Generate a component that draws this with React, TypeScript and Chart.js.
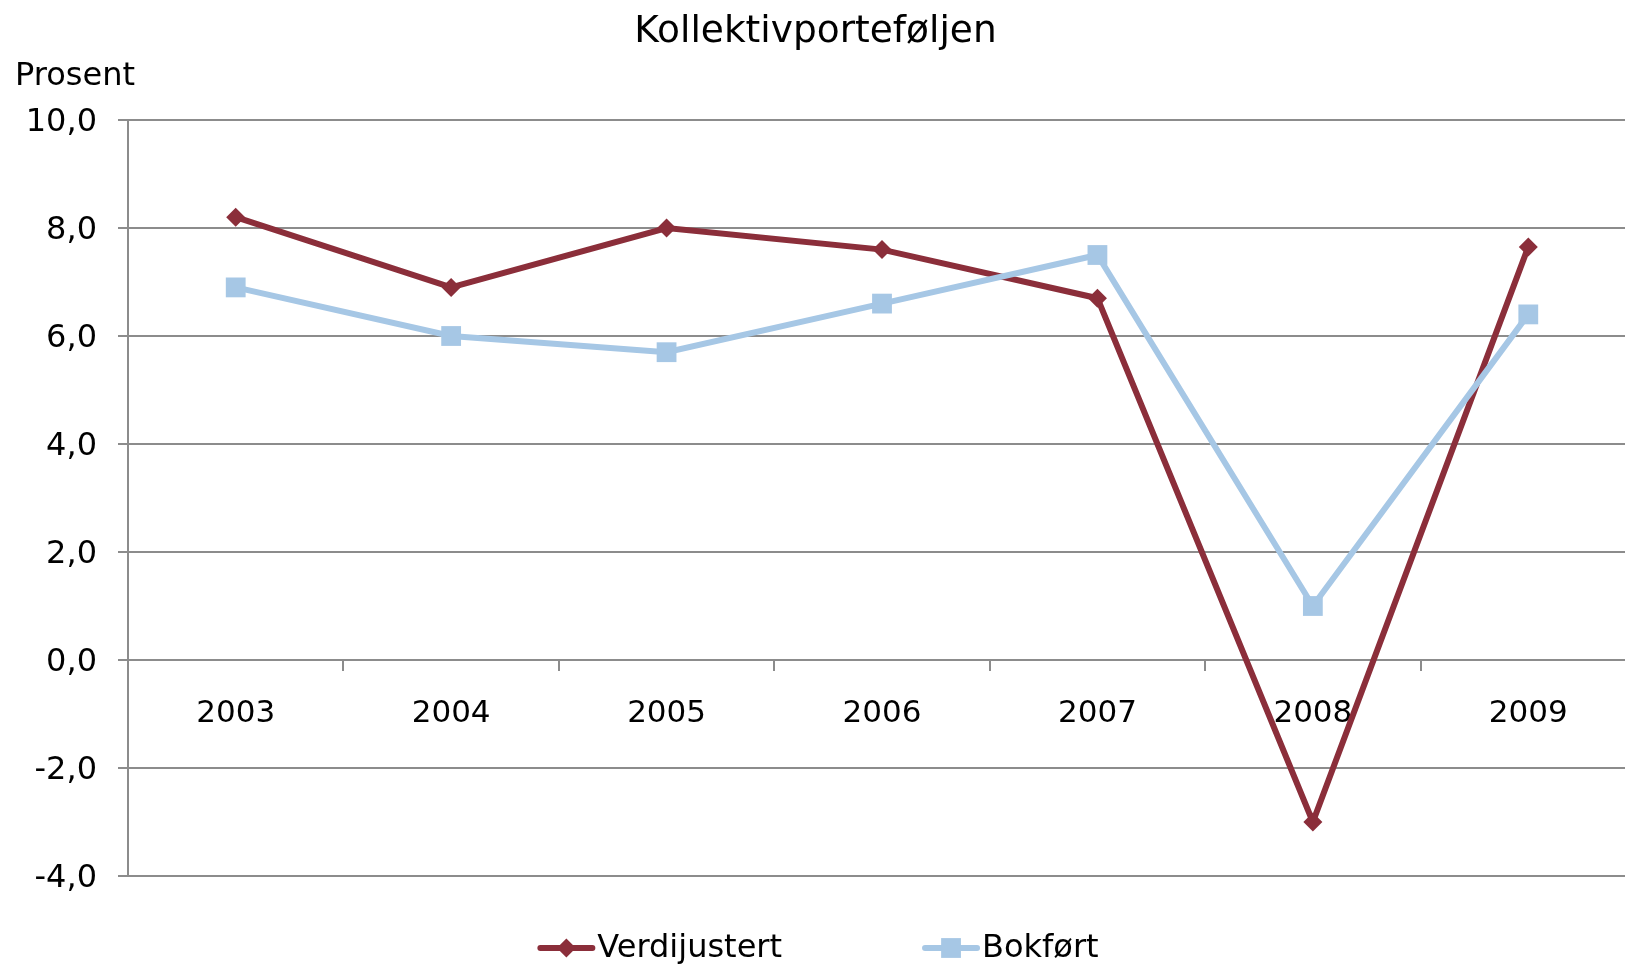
import React, { useEffect, useRef } from "react";
import { Chart, registerables } from "chart.js";
import { drawPoint } from "chart.js/helpers";

Chart.register(...registerables);

const categories = ["2003", "2004", "2005", "2006", "2007", "2008", "2009"];
const verdijustert = [8.2, 6.9, 8.0, 7.6, 6.7, -3.0, 7.65];
const bokfort = [6.9, 6.0, 5.7, 6.6, 7.5, 1.0, 6.4];
const yMin = -4;
const yMax = 10;
const yStep = 2;
const titleText = "Kollektivporteføljen";
const yUnitText = "Prosent";
const seriesNames = ["Verdijustert", "Bokført"];

const FONT = '"DejaVu Sans", Verdana, sans-serif';
const GRID = "#8c8c8c";
const MAROON = "#8b2e3a";
const BLUE = "#a6c7e5";

const extrasPlugin = {
  id: "extras",
  afterDraw(chart: any) {
    const ctx = chart.ctx as CanvasRenderingContext2D;
    ctx.save();
    // unit label
    ctx.font = `32px ${FONT}`;
    ctx.fillStyle = "#000";
    ctx.textAlign = "left";
    ctx.textBaseline = "alphabetic";
    ctx.fillText(yUnitText, 15, 85);

    // legend: line with marker + text
    ctx.font = `32px ${FONT}`;
    const dsets = chart.data.datasets;
    const lineLen = 58;
    const textGap = 2;
    const itemGap = 140;
    const widths = dsets.map((d: any) => ctx.measureText(d.label).width);
    let total = 0;
    widths.forEach((w: number) => (total += lineLen + textGap + w));
    total += itemGap * (dsets.length - 1);
    let x = chart.chartArea.right / 2 - total / 2;
    const y = 948;
    dsets.forEach((d: any, i: number) => {
      ctx.strokeStyle = d.borderColor;
      ctx.lineWidth = 6;
      ctx.lineCap = "round";
      ctx.beginPath();
      ctx.moveTo(x + 3, y);
      ctx.lineTo(x + lineLen - 3, y);
      ctx.stroke();
      ctx.fillStyle = d.pointBackgroundColor;
      ctx.strokeStyle = d.pointBorderColor;
      ctx.lineWidth = 0;
      drawPoint(ctx, { pointStyle: d.pointStyle, rotation: 0, radius: d.pointRadius, borderWidth: 0 } as any, x + lineLen / 2, y);
      ctx.fillStyle = "#000";
      ctx.textAlign = "left";
      ctx.textBaseline = "middle";
      ctx.fillText(d.label, x + lineLen + textGap, y + 1);
      x += lineLen + textGap + widths[i] + itemGap;
    });
    ctx.restore();
  },
};

export default function App() {
  const ref = useRef<HTMLCanvasElement>(null);
  useEffect(() => {
    if (!ref.current) return;
    const chart = new Chart(ref.current, {
      type: "line",
      data: {
        labels: categories,
        datasets: [
          {
            label: seriesNames[0],
            data: verdijustert,
            borderColor: MAROON,
            backgroundColor: MAROON,
            pointBackgroundColor: MAROON,
            pointBorderColor: MAROON,
            borderWidth: 6,
            pointStyle: "rectRot",
            pointRadius: 9.5,
            pointBorderWidth: 0,
            tension: 0,
            order: 1,
          } as any,
          {
            label: seriesNames[1],
            data: bokfort,
            borderColor: BLUE,
            backgroundColor: BLUE,
            pointBackgroundColor: BLUE,
            pointBorderColor: BLUE,
            borderWidth: 6,
            pointStyle: "rect",
            pointRadius: 14,
            pointBorderWidth: 0,
            tension: 0,
            order: 0,
          } as any,
        ],
      },
      options: {
        responsive: false,
        animation: false,
        devicePixelRatio: 1,
        layout: { padding: { left: -10, right: 9, top: 0, bottom: 89 } },
        plugins: {
          legend: { display: false },
          tooltip: { enabled: false },
          title: {
            display: true,
            text: titleText,
            color: "#000",
            font: { family: FONT, size: 37.5, weight: "normal" as any },
            padding: { top: 10, bottom: 65 },
          },
        },
        scales: {
          x: {
            type: "category",
            position: { y: 0 } as any,
            offset: true,
            grid: {
              display: true,
              drawOnChartArea: false,
              drawTicks: true,
              tickLength: 10,
              color: GRID,
              lineWidth: 2,
              offset: true,
            },
            border: { display: true, color: GRID, width: 2 },
            ticks: {
              color: "#000",
              font: { family: FONT, size: 31 },
              padding: 25,
              maxRotation: 0,
              autoSkip: false,
            },
            afterFit: (s: any) => {
              s.height = 0;
            },
          },
          y: {
            min: yMin,
            max: yMax,
            grid: {
              color: GRID,
              lineWidth: 2,
              drawTicks: true,
              tickLength: 10,
            },
            border: { display: true, color: GRID, width: 2 },
            ticks: {
              stepSize: yStep,
              color: "#000",
              font: { family: FONT, size: 32 },
              padding: 21,
              labelOffset: 3,
              callback: (v: any) => Number(v).toFixed(1).replace(".", ","),
            },
            afterFit: (s: any) => {
              s.width = 138;
            },
          },
        },
      },
      plugins: [extrasPlugin],
    });
    return () => chart.destroy();
  }, []);
  return (
    <div
      style={{
        position: "fixed",
        left: 0,
        top: 0,
        width: 1625,
        height: 965,
        overflow: "hidden",
        background: "#fff",
      }}
    >
      <canvas ref={ref} width={1650} height={965} style={{ width: 1650, height: 965, display: "block" }} />
    </div>
  );
}
